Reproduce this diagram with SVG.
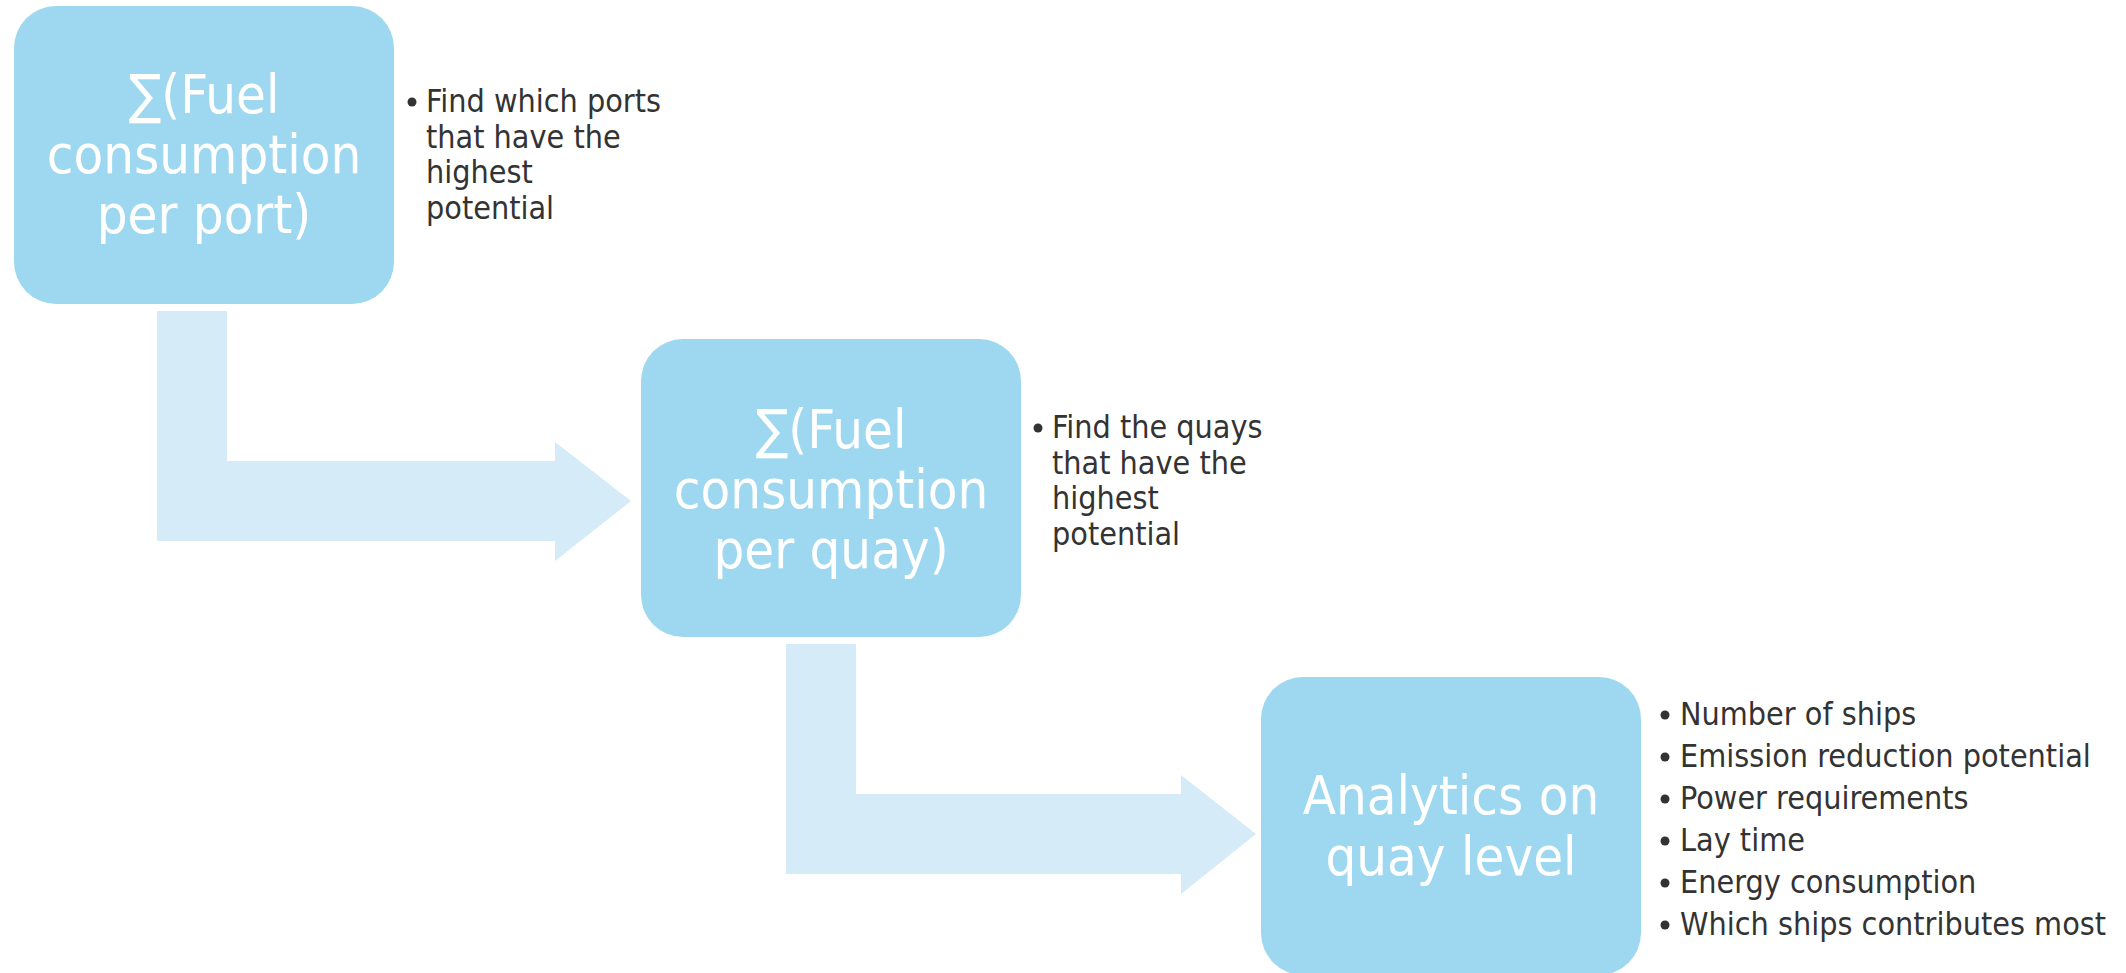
<svg xmlns="http://www.w3.org/2000/svg" width="2126" height="973" viewBox="0 0 2126 973">
  <style>
    .box { fill: #9dd8f0; }
    .flow { fill: #d5ebf7; }
    .title { font-family: "DejaVu Sans Condensed", "DejaVu Sans", sans-serif; font-stretch: condensed; font-size: 54px; fill: #ffffff; text-anchor: middle; }
    .note { font-family: "DejaVu Sans Condensed", "DejaVu Sans", sans-serif; font-stretch: condensed; font-size: 32px; fill: #333333; }
    .dot { fill: #333333; }
  </style>
  <rect width="2126" height="973" fill="#ffffff"/>

  <!-- bent block arrows between the steps -->
  <g id="connectors">
    <path class="flow" d="M157,311 H227 V461 H555 V442 L631,501 L555,561 V541 H157 Z"/>
    <path class="flow" d="M786,644 H856 V794 H1181 V775 L1256,834 L1181,894 V874 H786 Z"/>
  </g>

  <!-- step 1: fuel consumption per port -->
  <g id="step-port">
    <rect class="box" x="14" y="6" width="380" height="298" rx="42" ry="42"/>
    <text class="title" x="204" y="113">∑(Fuel</text>
    <text class="title" x="204" y="173">consumption</text>
    <text class="title" x="204" y="233">per port)</text>
  </g>
  <g id="notes-port">
    <circle class="dot" cx="412" cy="102" r="4.5"/>
    <text class="note" x="426" y="112">Find which ports</text>
    <text class="note" x="426" y="147.5">that have the</text>
    <text class="note" x="426" y="183">highest</text>
    <text class="note" x="426" y="218.5">potential</text>
  </g>

  <!-- step 2: fuel consumption per quay -->
  <g id="step-quay">
    <rect class="box" x="641" y="339" width="380" height="298" rx="42" ry="42"/>
    <text class="title" x="831" y="448">∑(Fuel</text>
    <text class="title" x="831" y="508">consumption</text>
    <text class="title" x="831" y="568">per quay)</text>
  </g>
  <g id="notes-quay">
    <circle class="dot" cx="1038" cy="428" r="4.5"/>
    <text class="note" x="1052" y="438">Find the quays</text>
    <text class="note" x="1052" y="473.5">that have the</text>
    <text class="note" x="1052" y="509">highest</text>
    <text class="note" x="1052" y="544.5">potential</text>
  </g>

  <!-- step 3: analytics on quay level -->
  <g id="step-analytics">
    <rect class="box" x="1261" y="677" width="380" height="298" rx="42" ry="42"/>
    <text class="title" x="1451" y="814">Analytics on</text>
    <text class="title" x="1451" y="875">quay level</text>
  </g>
  <g id="notes-analytics">
    <circle class="dot" cx="1665" cy="715" r="4.5"/>
    <text class="note" x="1680" y="725">Number of ships</text>
    <circle class="dot" cx="1665" cy="757" r="4.5"/>
    <text class="note" x="1680" y="767">Emission reduction potential</text>
    <circle class="dot" cx="1665" cy="799" r="4.5"/>
    <text class="note" x="1680" y="809">Power requirements</text>
    <circle class="dot" cx="1665" cy="841" r="4.5"/>
    <text class="note" x="1680" y="851">Lay time</text>
    <circle class="dot" cx="1665" cy="883" r="4.5"/>
    <text class="note" x="1680" y="893">Energy consumption</text>
    <circle class="dot" cx="1665" cy="925" r="4.5"/>
    <text class="note" x="1680" y="935">Which ships contributes most</text>
  </g>
</svg>
